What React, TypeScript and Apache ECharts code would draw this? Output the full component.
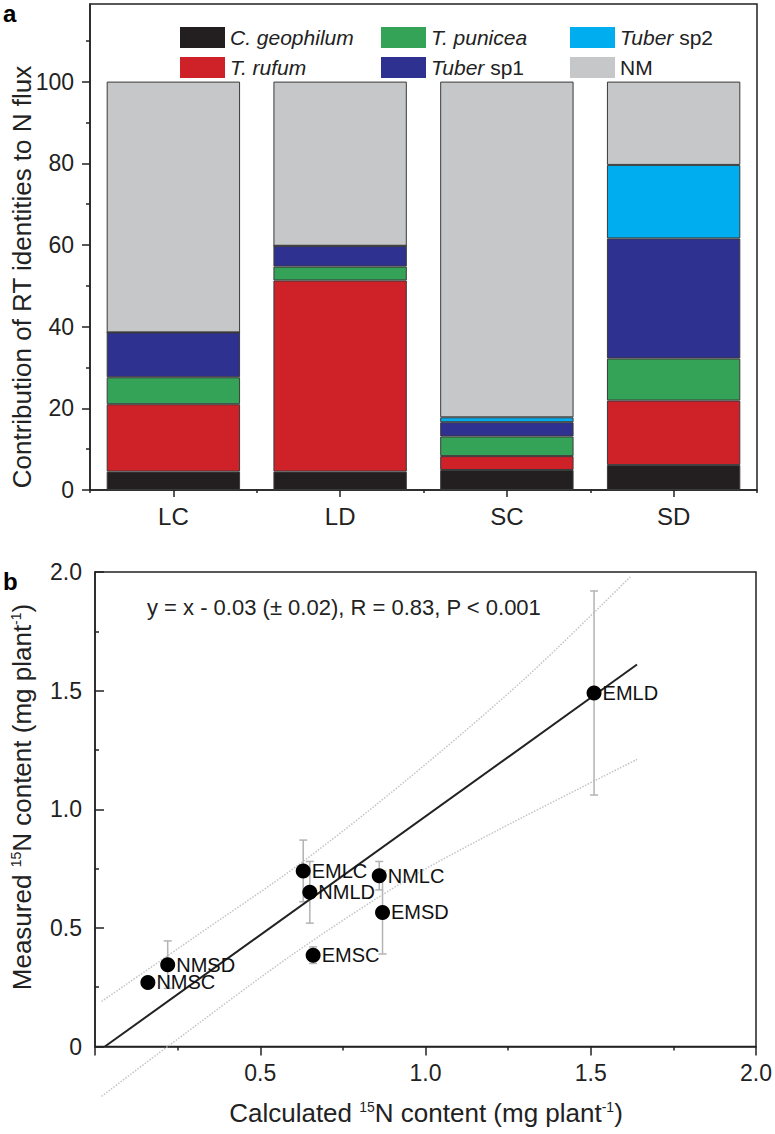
import { useEffect, useRef } from 'react';
import * as echarts from 'echarts';

const FONT = '"Liberation Sans", Arial, Helvetica, sans-serif';
const INK = '#222222';

// ---------- Panel a: stacked bars ----------
const categories = ['LC', 'LD', 'SC', 'SD'];
const cGeophilum = [4.5, 4.5, 4.9, 6.1];
const tRufum = [16.5, 46.8, 3.4, 15.8];
const tPunicea = [6.6, 3.4, 4.8, 10.3];
const tuberSp1 = [11.0, 5.1, 3.5, 29.4];
const tuberSp2 = [0, 0, 1.2, 18.0];
const nmShare = [61.4, 40.2, 82.2, 20.4];
const yTicksA = [0, 20, 40, 60, 80, 100];

const barSeriesDefs = [
  { name: 'C. geophilum', data: cGeophilum, color: '#231f20', label: '{i|C. geophilum}' },
  { name: 'T. rufum', data: tRufum, color: '#cf2128', label: '{i|T. rufum}' },
  { name: 'T. punicea', data: tPunicea, color: '#35a357', label: '{i|T. punicea}' },
  { name: 'Tuber sp1', data: tuberSp1, color: '#2e3190', label: '{i|Tuber} sp1' },
  { name: 'Tuber sp2', data: tuberSp2, color: '#00adee', label: '{i|Tuber} sp2' },
  { name: 'NM', data: nmShare, color: '#c6c7c9', label: 'NM' },
];

// ---------- Panel b: scatter ----------
const pointNames = ['EMLD', 'EMLC', 'NMLD', 'NMLC', 'EMSD', 'EMSC', 'NMSD', 'NMSC'];
const calculatedN = [1.51, 0.63, 0.65, 0.86, 0.87, 0.66, 0.22, 0.16];
const measuredN = [1.49, 0.74, 0.65, 0.72, 0.565, 0.385, 0.345, 0.27];
const measuredErr = [0.43, 0.13, 0.13, 0.06, 0.175, 0.035, 0.1, 0];
const fitLine = [[0.03, 0], [1.64, 1.61]];
const upperBand = [[0.02, 0.19], [0.3, 0.46], [0.62, 0.77], [0.94, 1.12], [1.3, 1.55], [1.62, 1.98]];
const lowerBand = [[0.02, -0.21], [0.22, 0.0], [0.6, 0.39], [0.94, 0.7], [1.23, 0.92], [1.64, 1.21]];
const ticksB = [0, 0.5, 1.0, 1.5, 2.0];
const equationText = 'y = x - 0.03 (± 0.02), R = 0.83, P < 0.001';

const axisLine = { show: true, lineStyle: { color: INK, width: 1.5 } };
const tickLine = { color: INK, width: 1.5 };

function makeLegend(names: string[], left: number) {
  const labelMap: Record<string, string> = {};
  barSeriesDefs.forEach((d) => (labelMap[d.name] = d.label));
  return {
    data: names,
    orient: 'vertical',
    left,
    top: 22,
    itemWidth: 45,
    itemHeight: 21,
    itemGap: 9,
    icon: 'rect',
    selectedMode: false,
    itemStyle: { borderWidth: 0 },
    formatter: (n: string) => labelMap[n],
    textStyle: {
      fontSize: 21,
      color: INK,
      fontFamily: FONT,
      rich: {
        i: { fontStyle: 'italic', fontSize: 21, color: INK, fontFamily: FONT },
      },
    },
  };
}

function buildOption() {
  const supRich = {
    sup: { fontSize: 14, verticalAlign: 'top', fontFamily: FONT, fill: INK, color: INK },
  };
  return {
    animation: false,
    backgroundColor: '#ffffff',
    grid: [
      { left: 90, top: 4, width: 667, height: 486, show: true, borderColor: INK, borderWidth: 1.5, outerBoundsMode: 'none' },
      { left: 95, top: 572, width: 661, height: 474.5, show: true, borderColor: INK, borderWidth: 1.5, outerBoundsMode: 'none' },
      { left: 90, top: 4, width: 667, height: 486, show: false, outerBoundsMode: 'none' },
    ],
    legend: [
      makeLegend(['C. geophilum', 'T. rufum'], 175),
      makeLegend(['T. punicea', 'Tuber sp1'], 376),
      makeLegend(['Tuber sp2', 'NM'], 565),
    ],
    xAxis: [
      {
        type: 'category',
        gridIndex: 0,
        data: categories,
        axisLine,
        axisTick: { show: true, alignWithLabel: true, length: 7, lineStyle: tickLine },
        axisLabel: { fontSize: 24, color: INK, fontFamily: FONT, margin: 14 },
      },
      {
        type: 'value',
        gridIndex: 1,
        min: 0,
        max: 2,
        interval: 0.5,
        axisLine,
        axisTick: { show: true, length: 9, lineStyle: tickLine },
        minorTick: { show: true, splitNumber: 2, length: 4, lineStyle: tickLine },
        splitLine: { show: false },
        axisLabel: {
          fontSize: 23,
          color: INK,
          fontFamily: FONT,
          margin: 15,
          formatter: (v: number) => (v === 0 ? '' : v.toFixed(1)),
        },
      },
      {
        type: 'category',
        gridIndex: 2,
        data: categories,
        axisLine: { show: false },
        axisTick: { show: true, length: 3, lineStyle: tickLine },
        axisLabel: { show: false },
      },
    ],
    yAxis: [
      {
        type: 'value',
        gridIndex: 0,
        min: 0,
        max: 119,
        interval: 20,
        axisLine,
        axisTick: { show: true, length: 8, lineStyle: tickLine, customValues: yTicksA },
        minorTick: { show: true, splitNumber: 2, length: 4, lineStyle: tickLine },
        splitLine: { show: false },
        axisLabel: {
          fontSize: 23,
          color: INK,
          fontFamily: FONT,
          margin: 16,
          customValues: yTicksA,
          formatter: (v: number) => (yTicksA.includes(v) ? String(v) : ''),
        },
      },
      {
        type: 'value',
        gridIndex: 1,
        min: 0,
        max: 2,
        interval: 0.5,
        axisLine,
        axisTick: { show: true, inside: true, length: 9, lineStyle: tickLine },
        minorTick: { show: true, splitNumber: 2, length: 4, lineStyle: tickLine },
        splitLine: { show: false },
        axisLabel: {
          fontSize: 23,
          color: INK,
          fontFamily: FONT,
          margin: 13,
          formatter: (v: number) => (v === 0 ? '0' : ticksB.includes(v) ? v.toFixed(1) : ''),
        },
      },
      { type: 'value', gridIndex: 2, show: false },
    ],
    series: [
      ...barSeriesDefs.map((d) => ({
        name: d.name,
        type: 'bar',
        xAxisIndex: 0,
        yAxisIndex: 0,
        stack: 'rt',
        barWidth: '80%',
        data: d.data,
        itemStyle: { color: d.color, borderColor: '#3a3a3a', borderWidth: 1 },
        emphasis: { disabled: true },
        silent: true,
      })),
      {
        name: 'errors',
        type: 'custom',
        xAxisIndex: 1,
        yAxisIndex: 1,
        z: 2,
        silent: true,
        data: calculatedN.map((x, i) => [x, measuredN[i], measuredErr[i]]),
        renderItem: (_params: any, api: any) => {
          const x = api.value(0);
          const y = api.value(1);
          const e = api.value(2);
          if (!e) return { type: 'group', children: [] };
          const top = api.coord([x, y + e]);
          const bot = api.coord([x, y - e]);
          const hw = 4;
          const st = { stroke: '#b3b3b3', lineWidth: 1.5 };
          return {
            type: 'group',
            children: [
              { type: 'line', shape: { x1: top[0], y1: top[1], x2: bot[0], y2: bot[1] }, style: st },
              { type: 'line', shape: { x1: top[0] - hw, y1: top[1], x2: top[0] + hw, y2: top[1] }, style: st },
              { type: 'line', shape: { x1: bot[0] - hw, y1: bot[1], x2: bot[0] + hw, y2: bot[1] }, style: st },
            ],
          };
        },
      },
      {
        name: 'upper band',
        type: 'line',
        xAxisIndex: 1,
        yAxisIndex: 1,
        data: upperBand,
        smooth: 0.3,
        symbol: 'none',
        silent: true,
        z: 1,
        lineStyle: { color: '#c4c4c4', width: 1.5, type: 'dotted' },
      },
      {
        name: 'lower band',
        type: 'line',
        xAxisIndex: 1,
        yAxisIndex: 1,
        data: lowerBand,
        smooth: 0.3,
        symbol: 'none',
        clip: false,
        silent: true,
        z: 1,
        lineStyle: { color: '#c4c4c4', width: 1.5, type: 'dotted' },
      },
      {
        name: 'fit',
        type: 'line',
        xAxisIndex: 1,
        yAxisIndex: 1,
        data: fitLine,
        symbol: 'none',
        silent: true,
        z: 3,
        lineStyle: { color: INK, width: 2 },
      },
      {
        name: 'samples',
        type: 'scatter',
        xAxisIndex: 1,
        yAxisIndex: 1,
        symbolSize: 15,
        z: 5,
        silent: true,
        itemStyle: { color: '#000000', opacity: 1 },
        label: {
          show: true,
          position: 'right',
          distance: 1,
          formatter: '{b}',
          fontSize: 20,
          color: '#111111',
          opacity: 1,
          fontFamily: FONT,
        },
        data: pointNames.map((n, i) => ({ name: n, value: [calculatedN[i], measuredN[i]] })),
      },
    ],
    graphic: [
      {
        type: 'text',
        x: 3,
        y: 13,
        style: { text: 'a', fontSize: 24, fontWeight: 'bold', fontFamily: FONT, fill: '#000', align: 'left', verticalAlign: 'middle' },
      },
      {
        type: 'text',
        x: 3,
        y: 581,
        style: { text: 'b', fontSize: 24, fontWeight: 'bold', fontFamily: FONT, fill: '#000', align: 'left', verticalAlign: 'middle' },
      },
      {
        type: 'text',
        x: 22,
        y: 277,
        rotation: Math.PI / 2,
        style: {
          text: 'Contribution of RT identities to N flux',
          fontSize: 26,
          fontFamily: FONT,
          fill: INK,
          align: 'center',
          verticalAlign: 'middle',
        },
      },
      {
        type: 'text',
        x: 147,
        y: 607,
        style: { text: equationText, fontSize: 22, fontFamily: FONT, fill: INK, align: 'left', verticalAlign: 'middle' },
      },
      {
        type: 'text',
        x: 22,
        y: 797,
        rotation: Math.PI / 2,
        style: {
          text: 'Measured {sup|15}N content (mg plant{sup|-1})',
          fontSize: 26,
          fontFamily: FONT,
          fill: INK,
          align: 'center',
          verticalAlign: 'middle',
          rich: supRich,
        },
      },
      {
        type: 'text',
        x: 426,
        y: 1113,
        style: {
          text: 'Calculated {sup|15}N content (mg plant{sup|-1})',
          fontSize: 26,
          fontFamily: FONT,
          fill: INK,
          align: 'center',
          verticalAlign: 'middle',
          rich: supRich,
        },
      },
    ],
  };
}

export default function App() {
  const ref = useRef<HTMLDivElement>(null);
  useEffect(() => {
    document.body.style.margin = '0';
    if (!ref.current) return;
    const chart = echarts.init(ref.current, null, { renderer: 'svg' });
    chart.setOption(buildOption() as any);
    return () => chart.dispose();
  }, []);
  return <div ref={ref} style={{ width: 775, height: 1134 }} />;
}
